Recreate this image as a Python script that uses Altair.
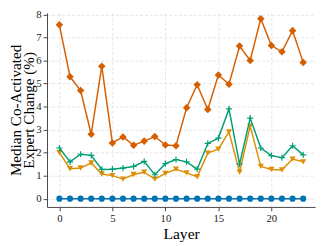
import altair as alt
import pandas as pd

layers = list(range(24))
series_red = [7.55, 5.3, 4.7, 2.8, 5.75, 2.42, 2.68, 2.32, 2.5, 2.7, 2.33, 2.3,
              3.95, 4.95, 3.87, 5.37, 4.97, 6.63, 6.0, 7.82, 6.65, 6.38, 7.3, 5.92]
series_green = [2.2, 1.6, 1.93, 1.88, 1.27, 1.28, 1.33, 1.4, 1.62, 1.04, 1.52, 1.7,
                1.6, 1.28, 2.4, 2.63, 3.9, 1.5, 3.5, 2.2, 1.87, 1.78, 2.3, 1.9]
series_orange = [2.0, 1.3, 1.33, 1.55, 1.07, 1.0, 0.85, 1.05, 1.15, 0.85, 1.1, 1.28,
                 1.12, 0.95, 1.98, 2.15, 2.9, 1.15, 3.15, 1.4, 1.27, 1.25, 1.72, 1.6]
series_blue = [0.0] * 24

def frame(vals):
    return pd.DataFrame({"layer": layers, "value": vals})

x = alt.X("layer:Q", title="Layer",
          scale=alt.Scale(domain=[-1.17, 24.13], nice=False, zero=False),
          axis=alt.Axis(values=[0, 5, 10, 15, 20]))
y = alt.Y("value:Q", title=["Median Co-Activated", "Expert Change (%)"],
          scale=alt.Scale(domain=[-0.36, 8.07], nice=False, zero=False),
          axis=alt.Axis(values=[0, 1, 2, 3, 4, 5, 6, 7, 8]))

def series(vals, color, shape, filled=True, size=40):
    base = alt.Chart(frame(vals)).encode(x=x, y=y)
    line = base.mark_line(color=color, strokeWidth=1.5)
    if filled:
        pts = base.mark_point(shape=shape, filled=True, color=color, size=size, opacity=1)
    else:
        pts = base.mark_point(shape=shape, filled=False, color=color, size=size,
                              strokeWidth=1.2, opacity=1)
    return line + pts

plus_path = "M-1,0L1,0M0,-1L0,1"

chart = alt.layer(
    series(series_blue, "#0173B2", "circle", size=40),
    series(series_orange, "#DE8F05", "triangle-down", size=40),
    series(series_green, "#029E73", plus_path, filled=False, size=40),
    series(series_red, "#D55E00", "diamond", size=60),
).properties(
    width=275, height=199,
    autosize=alt.AutoSizeParams(type="none"),
    padding={"left": 40, "top": 2, "right": 6, "bottom": 36}
).configure_view(stroke=None).configure_axis(
    labelFont="Liberation Serif", titleFont="Liberation Serif",
    labelFontSize=11, titleFontSize=15.5, titleFontWeight="normal",
    labelColor="#222", titleColor="#000",
    domainColor="#444", domainWidth=1, tickColor="#444", tickSize=4,
    gridColor="#dddddd", gridDash=[3, 2], gridWidth=0.8,
    labelPadding=2,
).configure_axisY(titleLineHeight=14, titlePadding=-1).configure_axisX(titlePadding=2, titleFontSize=16)

chart.save("out.html", embed_options={"renderer": "svg", "actions": False})
